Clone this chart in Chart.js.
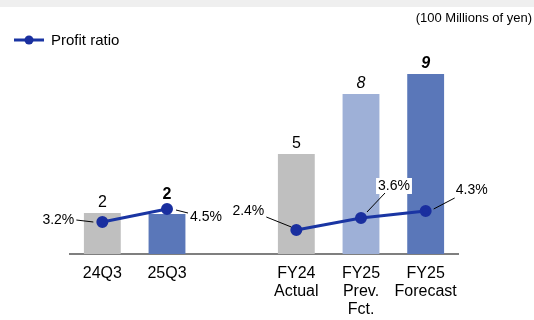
<!DOCTYPE html>
<html>
<head>
<meta charset="utf-8">
<script src="https://cdn.jsdelivr.net/npm/chart.js@4"></script>
<style>
  body { margin: 0; background: #fff; }
  #wrap { position: relative; width: 534px; height: 320px; }
</style>
</head>
<body>
<div id="wrap"><canvas id="profitChart"></canvas></div>
<script>
var periods = [["24Q3"], ["25Q3"], "", ["FY24", "Actual"], ["FY25", "Prev.", "Fct."], ["FY25", "Forecast"]];
var profit = [2.05, 2.0, null, 5, 8, 9];
var profitLabels = ["2", "2", "", "5", "8", "9"];
var ratio = [3.2, 4.5, null, 2.4, 3.6, 4.3];

// look of the marks, kept apart from the data
var barColors = ["#bfbfbf", "#5a77b9", "#ffffff", "#bfbfbf", "#9eb0d7", "#5a77b9"];
var valueFonts = ["", "bold ", "", "", "italic ", "italic bold "];
var valueLift = [0, 9, 0, 0, 0, 0];
// text offset from the point, leader start and end (relative to point)
var ratioLabelPos = [
  { dx: -44, dy: -2, l: [-26, -2, -9, 0] },
  { dx: 39, dy: 8, l: [9, 1, 21, 4] },
  null,
  { dx: -48, dy: -19, l: [-30, -13, -5, -3] },
  { dx: 33, dy: -32, l: [6, -6, 24, -25], box: true },
  { dx: 46, dy: -21, l: [8, -2, 29, -13] }
];

var FONT = "'Liberation Sans', Arial, sans-serif";

var labelsPlugin = {
  id: "labelsPlugin",
  beforeDraw: function (chart) {
    var c = chart.ctx;
    c.save();
    c.fillStyle = "#efefef";
    c.fillRect(0, 0, chart.width, 7);
    c.restore();
  },
  afterDatasetsDraw: function (chart) {
    var c = chart.ctx;
    c.save();
    // bar values
    var bars = chart.getDatasetMeta(1).data;
    c.fillStyle = "#000";
    c.textAlign = "center";
    c.textBaseline = "alphabetic";
    bars.forEach(function (b, i) {
      if (profit[i] == null) return;
      c.font = valueFonts[i] + "16px " + FONT;
      c.fillText(profitLabels[i], b.x, b.y - 6 - valueLift[i]);
    });
    // ratio labels
    var pts = chart.getDatasetMeta(0).data;
    c.font = "14px " + FONT;
    c.textBaseline = "middle";
    pts.forEach(function (p, i) {
      var pos = ratioLabelPos[i];
      if (ratio[i] == null || !pos) return;
      var txt = ratio[i].toFixed(1) + "%";
      var tx = p.x + pos.dx, ty = p.y + pos.dy;
      if (pos.box) {
        var w = c.measureText(txt).width + 4;
        c.fillStyle = "#fff";
        c.fillRect(tx - w / 2, ty - 8, w, 16);
      }
      c.strokeStyle = "#000";
      c.lineWidth = 1;
      c.beginPath();
      c.moveTo(p.x + pos.l[0], p.y + pos.l[1]);
      c.lineTo(p.x + pos.l[2], p.y + pos.l[3]);
      c.stroke();
      c.fillStyle = "#000";
      c.fillText(txt, tx, ty);
    });
    c.restore();
  },
  afterDraw: function (chart) {
    var c = chart.ctx;
    var ds = chart.data.datasets[0];
    c.save();
    // legend
    c.strokeStyle = ds.borderColor;
    c.lineWidth = 3;
    c.beginPath();
    c.moveTo(14, 40);
    c.lineTo(44, 40);
    c.stroke();
    c.fillStyle = ds.pointBackgroundColor;
    c.beginPath();
    c.arc(29, 40, 4.5, 0, Math.PI * 2);
    c.fill();
    c.fillStyle = "#000";
    c.font = "15px " + FONT;
    c.textAlign = "left";
    c.textBaseline = "middle";
    c.fillText(ds.label, 51, 41);
    // unit note
    c.font = "13px " + FONT;
    c.textAlign = "right";
    c.fillText("(100 Millions of yen)", 532, 18);
    c.restore();
  }
};

var ctx = document.getElementById("profitChart");
var profitChart = new Chart(ctx, {
  type: "bar",
  data: {
    labels: periods,
    datasets: [
      {
        type: "line",
        label: "Profit ratio",
        data: ratio,
        yAxisID: "y2",
        borderColor: "#1a35a3",
        borderWidth: 3,
        pointBackgroundColor: "#1a2f9f",
        pointBorderColor: "#1a2f9f",
        pointRadius: 4.5,
        spanGaps: false,
        order: 0
      },
      {
        label: "Profit",
        data: profit,
        yAxisID: "y",
        backgroundColor: barColors,
        barPercentage: 0.57,
        categoryPercentage: 1,
        order: 1
      }
    ]
  },
  options: {
    responsive: true,
    maintainAspectRatio: false,
    animation: false,
    layout: { padding: { left: 70, right: 76, top: 54, bottom: 0 } },
    plugins: {
      legend: { display: false },
      tooltip: { enabled: false }
    },
    scales: {
      x: {
        grid: { display: false, drawTicks: false },
        border: { display: true, color: "#7f7f7f", width: 2 },
        afterFit: function (scale) { scale.height = 66; },
        ticks: {
          color: "#000",
          padding: 10,
          font: { family: FONT, size: 16, lineHeight: 1.15 },
          maxRotation: 0,
          autoSkip: false
        }
      },
      y: { display: false, min: 0, max: 10 },
      y2: { display: false, min: 0, max: 20, position: "right" }
    }
  },
  plugins: [labelsPlugin]
});
</script>
</body>
</html>
